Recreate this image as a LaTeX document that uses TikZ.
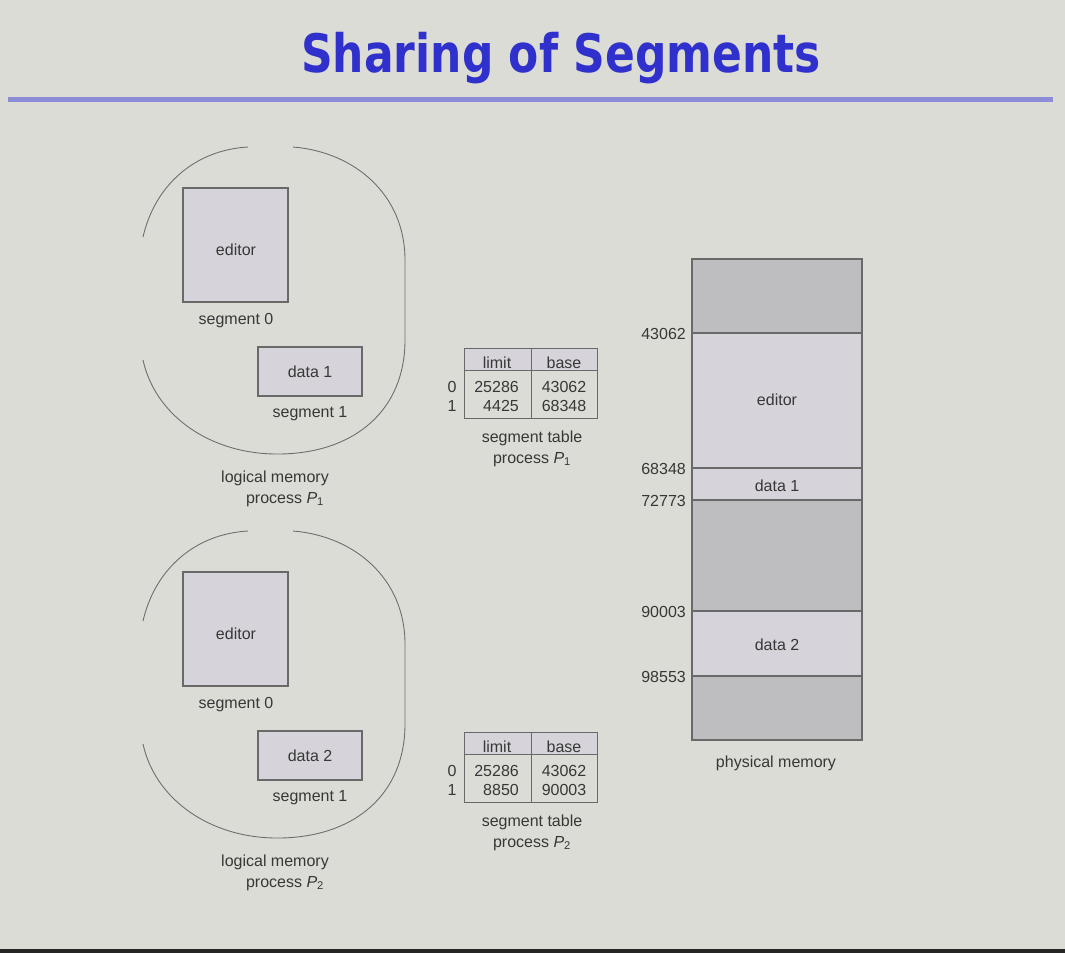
\documentclass[tikz,border=0pt]{standalone}
\usepackage{fontspec}
\setmainfont{Liberation Sans}
\newfontfamily\titlefont{DejaVu Sans}
\definecolor{bgc}{RGB}{220,220,215}
\definecolor{titlec}{RGB}{48,48,205}
\definecolor{rulec}{RGB}{140,140,215}
\definecolor{boxc}{RGB}{214,212,218}
\definecolor{freec}{RGB}{190,190,192}
\definecolor{edgec}{RGB}{105,105,105}
\definecolor{txtc}{RGB}{55,55,55}
\definecolor{ovalc}{RGB}{110,110,110}
\begin{document}
\begin{tikzpicture}[x=1pt,y=-1pt,
  lbl/.style={font=\fontsize{16}{19}\selectfont, text=txtc, inner sep=0pt, anchor=base},
  rlbl/.style={lbl, anchor=base east},
  segbox/.style={draw=edgec, fill=boxc, line width=1.1pt},
  freebox/.style={draw=edgec, fill=freec, line width=1.1pt},
  oval/.style={draw=ovalc, line width=0.9pt},
  tabline/.style={draw=edgec, line width=1pt}]
\useasboundingbox (0,0) rectangle (1065,953);
\fill[bgc] (0,0) rectangle (1065,953);
\fill[black!85] (0,949) rectangle (1065,953);
% title
\node[anchor=base, text=titlec, inner sep=0pt] (title) at (561,72)
  {\scalebox{0.83}[1]{\titlefont\bfseries\fontsize{53}{60}\selectfont Sharing of Segments}};
\draw[rulec, line width=5pt] (8,99) coordinate (rl) -- (1053,99) coordinate (rr);

% ---------- logical memory P1 ----------
\draw[oval] (143,237) .. controls (155,185) and (195,150) .. (248,147);
\draw[oval] (293,147) .. controls (355,152) and (405,195) .. (405,260) -- (405,340)
  .. controls (405,410) and (355,453) .. (280,454) .. controls (210,455) and (155,415) .. (143,360);
\filldraw[segbox] (183,188) rectangle (288,302);
\node[lbl] (ed1) at (236,255) {editor};
\node[lbl] (s01) at (236,324) {segment 0};
\filldraw[segbox] (258,347) rectangle (362,396);
\node[lbl] (d1) at (310,377) {data 1};
\node[lbl] (s11) at (310,417) {segment 1};
\node[lbl] (lm1) at (275,482) {logical memory};
\node[lbl] (pp1) at (285,503) {process {\itshape P}\textsubscript{1}};

% ---------- logical memory P2 ----------
\begin{scope}[yshift=-384pt]
\draw[oval] (143,237) .. controls (155,185) and (195,150) .. (248,147);
\draw[oval] (293,147) .. controls (355,152) and (405,195) .. (405,260) -- (405,340)
  .. controls (405,410) and (355,453) .. (280,454) .. controls (210,455) and (155,415) .. (143,360);
\filldraw[segbox] (183,188) rectangle (288,302);
\node[lbl] (ed2) at (236,255) {editor};
\node[lbl] (s02) at (236,324) {segment 0};
\filldraw[segbox] (258,347) rectangle (362,396);
\node[lbl] (d2) at (310,377) {data 2};
\node[lbl] (s12) at (310,417) {segment 1};
\node[lbl] (lm2) at (275,482) {logical memory};
\node[lbl] (pp2) at (285,503) {process {\itshape P}\textsubscript{2}};
\end{scope}

% ---------- segment table P1 ----------
\filldraw[tabline, fill=boxc] (464,348) rectangle (597,370);
\draw[tabline] (464,348) rectangle (597,418);
\draw[tabline] (531,348) -- (531,418);
\node[lbl] (t1h1) at (497,368) {limit};
\node[lbl] (t1h2) at (564,368) {base};
\node[lbl] (t1i0) at (452,392) {0};
\node[lbl] (t1i1) at (452,411) {1};
\node[rlbl] (t1l0) at (519,392) {25286};
\node[rlbl] (t1l1) at (519,411) {4425};
\node[lbl] (t1b0) at (564,392) {43062};
\node[lbl] (t1b1) at (564,411) {68348};
\node[lbl] (t1c) at (532,442) {segment table};
\node[lbl] (t1p) at (532,463) {process {\itshape P}\textsubscript{1}};

% ---------- segment table P2 ----------
\begin{scope}[yshift=-384pt]
\filldraw[tabline, fill=boxc] (464,348) rectangle (597,370);
\draw[tabline] (464,348) rectangle (597,418);
\draw[tabline] (531,348) -- (531,418);
\node[lbl] (t2h1) at (497,368) {limit};
\node[lbl] (t2h2) at (564,368) {base};
\node[lbl] (t2i0) at (452,392) {0};
\node[lbl] (t2i1) at (452,411) {1};
\node[rlbl] (t2l0) at (519,392) {25286};
\node[rlbl] (t2l1) at (519,411) {8850};
\node[lbl] (t2b0) at (564,392) {43062};
\node[lbl] (t2b1) at (564,411) {90003};
\node[lbl] (t2c) at (532,442) {segment table};
\node[lbl] (t2p) at (532,463) {process {\itshape P}\textsubscript{2}};
\end{scope}

% ---------- physical memory ----------
\filldraw[freebox] (692,259) rectangle (862,333);
\filldraw[segbox] (692,333) rectangle (862,468);
\filldraw[segbox] (692,468) rectangle (862,500);
\filldraw[freebox] (692,500) rectangle (862,611);
\filldraw[segbox] (692,611) rectangle (862,676);
\filldraw[freebox] (692,676) rectangle (862,740);
\node[lbl] (pmed) at (777,405) {editor};
\node[lbl] (pmd1) at (777,491) {data 1};
\node[lbl] (pmd2) at (777,650) {data 2};
\node[rlbl] (a1) at (686,339) {43062};
\node[rlbl] (a2) at (686,474) {68348};
\node[rlbl] (a3) at (686,506) {72773};
\node[rlbl] (a4) at (686,617) {90003};
\node[rlbl] (a5) at (686,682) {98553};
\node[lbl] (pm) at (776,767) {physical memory};
\end{tikzpicture}
\end{document}
